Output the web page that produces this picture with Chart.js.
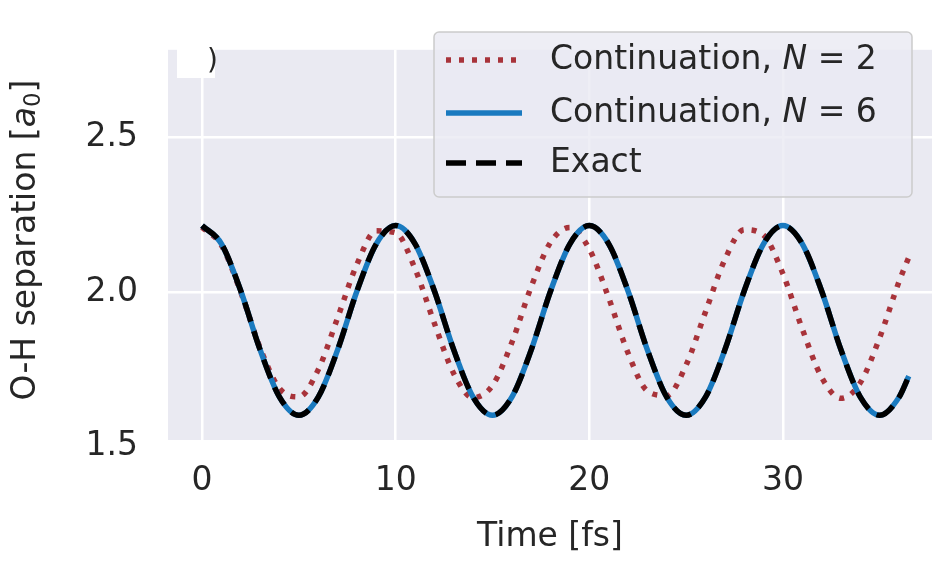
<!DOCTYPE html>
<html><head><meta charset="utf-8">
<script src="https://cdn.jsdelivr.net/npm/chart.js@4"></script>
<style>body{margin:0;background:#fff}#w{width:938px;height:571px}</style>
</head><body><div id="w"><canvas id="c"></canvas></div>
<script>
const times = [0,1,2,3,4,5,6,7,8,9,10,11,12,13,14,15,16,17,18,19,20,21,22,23,24,25,26,27,28,29,30,31,32,33,34,35,36,36.5];
const cont2 = [2.210,2.151,1.999,1.818,1.687,1.660,1.748,1.916,2.090,2.198,2.192,2.075,1.898,1.735,1.657,1.697,1.836,2.017,2.161,2.209,2.139,1.981,1.802,1.679,1.664,1.763,1.935,2.105,2.202,2.184,2.059,1.880,1.723,1.655,1.706,1.852,2.034,2.112];
const exact = [2.215,2.156,2.003,1.812,1.659,1.600,1.659,1.812,2.003,2.156,2.215,2.156,2.003,1.812,1.659,1.600,1.659,1.812,2.003,2.156,2.215,2.156,2.003,1.812,1.659,1.600,1.659,1.812,2.003,2.156,2.215,2.156,2.003,1.812,1.659,1.600,1.659,1.727];
const cont6 = exact.slice();
const xTicks = [0,10,20,30];
const yTicks = [1.5,2.0,2.5];
const seriesNames = ['Continuation, ', 'Continuation, ', 'Exact'];
const RED = '#a8333a', BLUE = '#1a7abf', TXT = '#262626';
const F = '"DejaVu Sans", sans-serif';
const FS = 33;
const pts = a => a.map((v,i)=>({x:times[i], y:v}));

const bg = {id:'bg', beforeDraw(c){const a=c.chartArea,x=c.ctx;x.save();x.fillStyle='#eaeaf2';x.fillRect(a.left,a.top,a.right-a.left,a.bottom-a.top);x.restore();}};
const deco = {id:'deco', afterDraw(c){
  const x=c.ctx; x.save();
  x.fillStyle='#fff'; x.fillRect(177,45,38,33);
  x.fillStyle=TXT; x.font='28px '+F; x.textBaseline='middle'; x.fillText(')',207,62);
  x.fillStyle='rgba(234,234,242,0.8)'; x.strokeStyle='#cccccc'; x.lineWidth=1.5;
  x.beginPath(); x.roundRect(434,32,478,165,5); x.fill(); x.stroke();
  const rows=[[60,RED,[5,8],'2'],[113,BLUE,[],'6'],[163,'#000',[20,10],null]];
  rows.forEach((r,i)=>{
    x.strokeStyle=r[1]; x.lineWidth=5.5; x.setLineDash(r[2]); x.lineCap='butt';
    x.beginPath(); x.moveTo(446,r[0]); x.lineTo(522,r[0]); x.stroke(); x.setLineDash([]);
    x.fillStyle=TXT; x.textBaseline='middle'; x.font=FS+'px '+F;
    let px=550; x.fillText(seriesNames[i],px,r[0]); px+=x.measureText(seriesNames[i]).width;
    if(r[3]){ x.font='italic '+FS+'px '+F; x.fillText('N',px,r[0]); px+=x.measureText('N').width;
      x.font=FS+'px '+F; x.fillText(' = '+r[3],px,r[0]); }
  });
  x.translate(26,240); x.rotate(-Math.PI/2); x.font=FS+'px '+F; x.textAlign='left';
  const t1='O-H separation [', w1=x.measureText(t1).width;
  x.font='italic '+FS+'px '+F; const wa=x.measureText('a').width;
  x.font='23px '+F; const w0=x.measureText('0').width;
  x.font=FS+'px '+F; const w2=x.measureText(']').width;
  let s=-(w1+wa+w0+w2)/2;
  x.fillText(t1,s,0); s+=w1; x.font='italic '+FS+'px '+F; x.fillText('a',s,0); s+=wa;
  x.font='23px '+F; x.fillText('0',s,8); s+=w0; x.font=FS+'px '+F; x.fillText(']',s,0);
  x.restore();
}};

const common = {pointRadius:0,cubicInterpolationMode:'monotone',fill:false,borderWidth:5.5,borderCapStyle:'butt'};
new Chart(document.getElementById('c'),{
  type:'line',
  data:{datasets:[
    {...common,data:pts(cont2),borderColor:RED,borderDash:[5,8],order:3},
    {...common,data:pts(cont6),borderColor:BLUE,order:2},
    {...common,data:pts(exact),borderColor:'#000',borderDash:[20,10],order:1}
  ]},
  options:{responsive:true,maintainAspectRatio:false,animation:false,
    layout:{padding:{top:40,right:6,left:0,bottom:10}},
    plugins:{legend:{display:false},tooltip:{enabled:false}},
    scales:{
      x:{type:'linear',min:-1.76,max:37.7,
        afterBuildTicks:s=>{s.ticks=xTicks.map(v=>({value:v}));},
        afterFit:s=>{s.height=121;},
        grid:{color:'#fff',lineWidth:2.5,drawTicks:false},border:{display:false},
        ticks:{color:TXT,font:{family:F,size:FS},padding:22},
        title:{display:true,text:'Time [fs]',color:TXT,font:{family:F,size:FS},padding:{top:4}}},
      y:{min:1.52,max:2.785,
        afterBuildTicks:s=>{s.ticks=yTicks.map(v=>({value:v}));},
        afterFit:s=>{s.width=168;},
        grid:{color:'#fff',lineWidth:2.5,drawTicks:false},border:{display:false},
        ticks:{color:TXT,font:{family:F,size:FS},padding:30,callback:v=>v.toFixed(1)}}
    }},
  plugins:[bg,deco]
});
</script></body></html>
